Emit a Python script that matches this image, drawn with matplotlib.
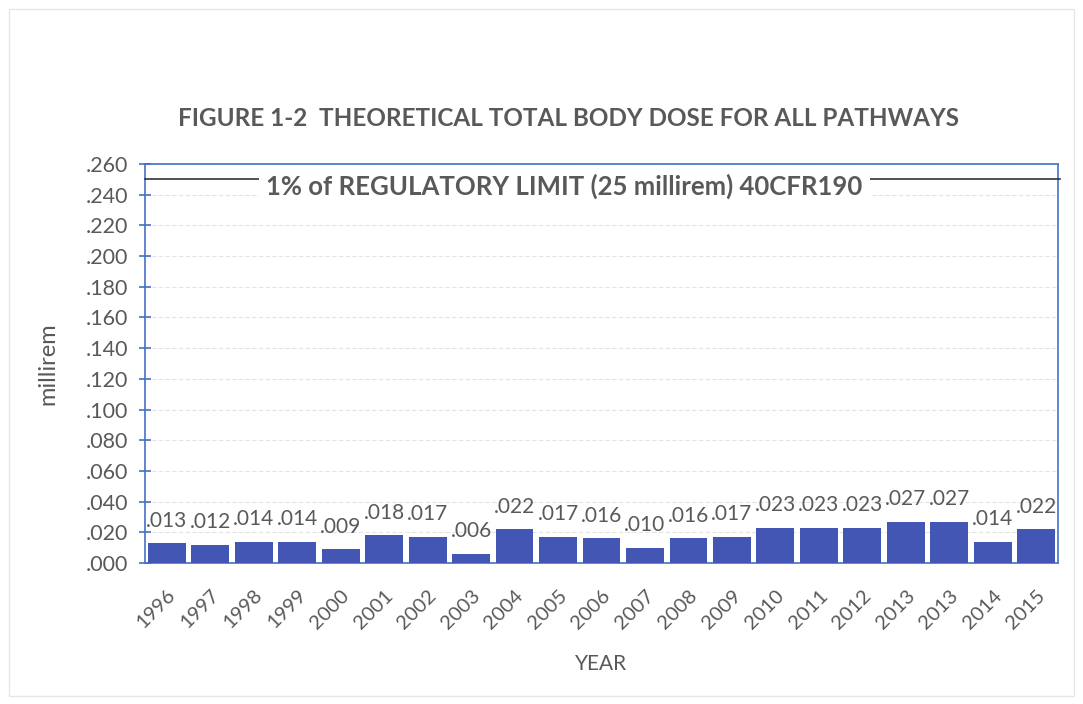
import matplotlib
matplotlib.use("Agg")
import matplotlib.pyplot as plt
from matplotlib.patches import Rectangle

years = ["1996", "1997", "1998", "1999", "2000", "2001", "2002", "2003", "2004", "2005",
         "2006", "2007", "2008", "2009", "2010", "2011", "2012", "2013", "2013", "2014", "2015"]
dose = [0.013, 0.012, 0.014, 0.014, 0.009, 0.018, 0.017, 0.006, 0.022, 0.017,
        0.016, 0.010, 0.016, 0.017, 0.023, 0.023, 0.023, 0.027, 0.027, 0.014, 0.022]
limit = 0.250
yticks = [0.000, 0.020, 0.040, 0.060, 0.080, 0.100, 0.120, 0.140, 0.160, 0.180,
          0.200, 0.220, 0.240, 0.260]

plt.rcParams['font.family'] = ['Lato', 'DejaVu Sans']
txt = '#595959'
blue = '#4472C4'
bar_c = '#4456B4'

fig = plt.figure(figsize=(10.83, 7.04), dpi=100)
fig.patches.append(Rectangle((0.008, 0.012), 0.984, 0.975, transform=fig.transFigure,
                             fill=False, edgecolor='#e6e6e6', linewidth=1))
ax = fig.add_axes([145/1083, 1-563/704, (1058-145)/1083, (563-164)/704])

x = list(range(len(years)))
ax.bar(x, dose, width=0.87, color=bar_c, zorder=3)
ax.set_xlim(-0.5, len(years) - 0.5)
ax.set_ylim(0, 0.26)
ax.set_yticks(yticks)
ax.set_yticklabels(['.' + f"{v:.3f}".split('.')[1] for v in yticks], fontsize=15.5, color=txt)
ax.set_xticks(x)
ax.set_xticklabels(years, rotation=45, fontsize=14.5, color=txt, ha='right',
                   rotation_mode='anchor')
ax.tick_params(axis='x', length=0, pad=17)
ax.tick_params(axis='y', length=8, direction='inout', color=blue, width=1.2, pad=8)
ax.grid(axis='y', color='#e4e4e4', linestyle=(0, (4, 2)), linewidth=0.8, zorder=0)
for s in ax.spines.values():
    s.set_color(blue)
    s.set_linewidth(1.2)

for xi, v in zip(x, dose):
    ax.annotate('.' + f"{v:.3f}".split('.')[1], (xi, v), xytext=(0, 9),
                textcoords='offset points', ha='center', va='bottom', fontsize=15, color=txt)

ax.plot([-0.5, len(years) - 0.45], [limit, limit], color='#333333', linewidth=1.2,
        clip_on=False, zorder=4)
ax.text(9.15, limit - 0.0045, "1% of REGULATORY LIMIT (25 millirem) 40CFR190",
        ha='center', va='center', fontsize=18.5, fontweight='bold', color=txt,
        bbox=dict(facecolor='white', edgecolor='none', pad=5), zorder=5)

ax.set_ylabel('millirem', fontsize=17, color=txt, va='center')
ax.yaxis.set_label_coords((48 - 145) / 913, 0.5)
ax.set_xlabel('YEAR', fontsize=15, color=txt, labelpad=16)
fig.text(568/1083, 1-118/704, 'FIGURE 1-2  THEORETICAL TOTAL BODY DOSE FOR ALL PATHWAYS',
         ha='center', va='center', fontsize=17.5, fontweight='bold', color=txt)

fig.savefig('out.png', dpi=100)
